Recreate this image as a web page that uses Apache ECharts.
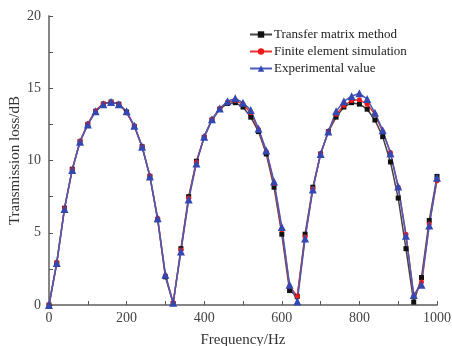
<!DOCTYPE html>
<html>
<head>
<meta charset="utf-8">
<script src="https://cdn.jsdelivr.net/npm/echarts@6/dist/echarts.min.js"></script>
<style>
  html, body { margin: 0; padding: 0; background: #fff; }
  #chart { width: 452px; height: 346px; }
</style>
</head>
<body>
<div id="chart"></div>
<script>
// frequency points, every 20 Hz
var freqs = [0,20,40,60,80,100,120,140,160,180,200,220,240,260,280,300,320,340,360,380,
  400,420,440,460,480,500,520,540,560,580,600,620,640,660,680,700,720,740,760,780,
  800,820,840,860,880,900,920,940,960,980,1000];

var transferMatrix = [0,2.9,6.7,9.4,11.3,12.5,13.4,13.9,14.05,13.9,13.35,12.35,10.95,8.9,5.9,1.95,0.1,3.9,7.5,9.95,
  11.6,12.8,13.55,13.95,14.0,13.7,13.0,12.0,10.45,8.15,4.9,1.0,0.6,4.9,8.15,10.45,12.0,13.0,13.7,14.0,
  13.9,13.55,12.8,11.65,9.9,7.4,3.9,0.2,1.9,5.85,8.9];

var finiteElement = [0,2.95,6.7,9.4,11.35,12.55,13.45,13.95,14.05,13.9,13.3,12.4,10.95,8.95,6.0,2.05,0.15,3.8,7.4,9.9,
  11.65,12.85,13.6,14.05,14.15,13.9,13.3,12.15,10.6,8.4,5.2,1.3,0.6,4.7,8.05,10.45,12.0,13.2,13.8,14.15,
  14.2,13.9,13.2,12.0,10.55,8.15,4.9,0.6,1.6,5.6,8.6];

var experimental = [0,2.9,6.65,9.35,11.3,12.5,13.4,13.9,14.05,13.9,13.4,12.4,10.95,8.9,6.0,2.1,0.15,3.7,7.3,9.8,
  11.65,12.85,13.6,14.1,14.3,14.0,13.5,12.2,10.7,8.55,5.4,1.4,0.25,4.6,8.0,10.45,12.0,13.4,14.1,14.45,
  14.65,14.25,13.3,12.1,10.5,8.2,4.8,0.7,1.4,5.5,8.8];

var seriesNames = ['Transfer matrix method', 'Finite element simulation', 'Experimental value'];

function pairs(ys) {
  return freqs.map(function (f, i) { return [f, ys[i]]; });
}

var serif = '"Liberation Serif", "DejaVu Serif", serif';

var myChart = echarts.init(document.getElementById('chart'));
var option = {
  backgroundColor: '#fff',
  animation: false,
  grid: { left: 49, right: 15, top: 16, bottom: 41, outerBoundsMode: 'none', containLabel: false },
  legend: {
    top: 23, left: 244,
    orient: 'vertical',
    itemGap: 4,
    itemWidth: 22, itemHeight: 8,
    textStyle: { fontFamily: serif, fontSize: 13, color: '#222', padding: [0, 0, 0, -3] },
    data: seriesNames
  },
  xAxis: [{
    type: 'value', min: 0, max: 1000, interval: 200,
    name: 'Frequency/Hz', nameLocation: 'middle', nameGap: 28, nameMoveOverlap: false,
    nameTextStyle: { fontFamily: serif, fontSize: 15, color: '#333' },
    axisLine: { lineStyle: { color: '#555', width: 1.5 } },
    axisTick: { inside: true, length: 4, lineStyle: { color: '#555' } },
    minorTick: { show: true, splitNumber: 2, length: 4, lineStyle: { color: '#555' } },
    axisLabel: { fontFamily: serif, fontSize: 14, color: '#444', margin: 6,
      formatter: function (v) { return String(v); } },
    splitLine: { show: false }
  }, {
    type: 'value', position: 'top', min: 0, max: 1000,
    axisLine: { show: true, lineStyle: { color: '#888', width: 1.5 } },
    axisTick: { show: false }, axisLabel: { show: false }, splitLine: { show: false }
  }],
  yAxis: [{
    type: 'value', min: 0, max: 20, interval: 5,
    name: 'Transmission loss/dB', nameLocation: 'middle', nameGap: 26, nameMoveOverlap: false,
    nameTextStyle: { fontFamily: serif, fontSize: 15, color: '#333' },
    axisLine: { show: true, lineStyle: { color: '#555', width: 1.5 } },
    axisTick: { inside: true, length: 4, lineStyle: { color: '#555' } },
    minorTick: { show: true, splitNumber: 2, length: 4, lineStyle: { color: '#555' } },
    axisLabel: { fontFamily: serif, fontSize: 14, color: '#444', margin: 8 },
    splitLine: { show: false }
  }, {
    type: 'value', position: 'right', min: 0, max: 20,
    axisLine: { show: true, lineStyle: { color: '#888', width: 1.5 } },
    axisTick: { show: false }, axisLabel: { show: false }, splitLine: { show: false }
  }],
  series: [{
    name: seriesNames[0], type: 'line', data: pairs(transferMatrix),
    symbol: 'rect', symbolSize: 5,
    itemStyle: { color: '#111' },
    lineStyle: { color: '#444', width: 1.5 }
  }, {
    name: seriesNames[1], type: 'line', data: pairs(finiteElement),
    symbol: 'circle', symbolSize: 5,
    itemStyle: { color: '#f01818' },
    lineStyle: { color: '#f03030', width: 1.5 }
  }, {
    name: seriesNames[2], type: 'line', data: pairs(experimental),
    symbol: 'triangle', symbolSize: 8,
    itemStyle: { color: '#3348b0' },
    lineStyle: { color: '#4a5ab8', width: 1.5 }
  }]
};
myChart.setOption(option);
</script>
</body>
</html>
